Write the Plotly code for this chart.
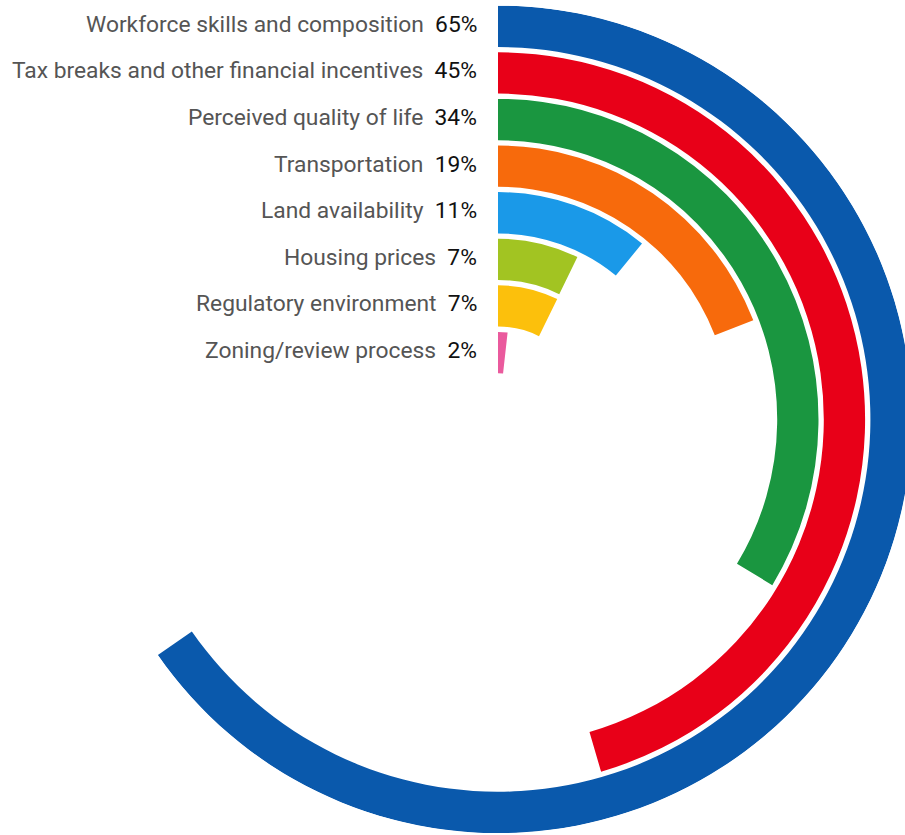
import plotly.graph_objects as go

categories = [
    "Workforce skills and composition",
    "Tax breaks and other financial incentives",
    "Perceived quality of life",
    "Transportation",
    "Land availability",
    "Housing prices",
    "Regulatory environment",
    "Zoning/review process",
]
# shares (%) read from the arc lengths; labels show the rounded figures
values = [65.36, 45.47, 33.65, 19.1, 10.92, 7.24, 7.28, 1.75]
value_labels = ["65%", "45%", "34%", "19%", "11%", "7%", "7%", "2%"]
colors = ["#0A59AC", "#E80018", "#1A9640", "#F76A0C", "#1A99E8", "#A2C422", "#FCC00C", "#EA5A9D"]

# layout geometry (pixels)
W, H = 920, 835
CX, CY = 498, 419.4
R = 414
PITCH = 46.6
THICK = 41.3
OUTER0 = 413.7

fig = go.Figure()
annotations = []
for i, (cat, v, lab, col) in enumerate(zip(categories, values, value_labels, colors)):
    inner = OUTER0 - PITCH * i - THICK
    fig.add_trace(go.Barpolar(
        r=[THICK], base=[inner], theta=[v * 3.6 / 2], width=[v * 3.6],
        marker=dict(color=col, line=dict(width=0)),
        name=cat, hoverinfo="skip", showlegend=False,
    ))
    yc = CY - (inner + THICK / 2) - 2
    annotations.append(dict(
        x=(CX - 19) / W, y=1 - yc / H, xref="paper", yref="paper",
        xanchor="right", yanchor="middle", showarrow=False,
        text=f"<span style='color:#555555'>{cat}</span>\u00a0\u00a0{lab}",
        font=dict(family="Roboto", size=22.8, color="#111111"),
    ))

fig.update_layout(
    width=W, height=H,
    margin=dict(l=0, r=0, t=0, b=0),
    paper_bgcolor="white",
    polar=dict(
        domain=dict(x=[(CX - R) / W, (CX + R) / W], y=[(H - CY - R) / H, (H - CY + R) / H]),
        bgcolor="white",
        radialaxis=dict(range=[0, R], visible=False),
        angularaxis=dict(visible=False, rotation=90, direction="clockwise"),
        bargap=0,
    ),
    annotations=annotations,
)

fig.write_html(
    "out.html",
    config={"displayModeBar": False},
    post_script="document.body.style.margin='0';document.body.style.overflow='hidden';document.documentElement.style.overflow='hidden';",
)
